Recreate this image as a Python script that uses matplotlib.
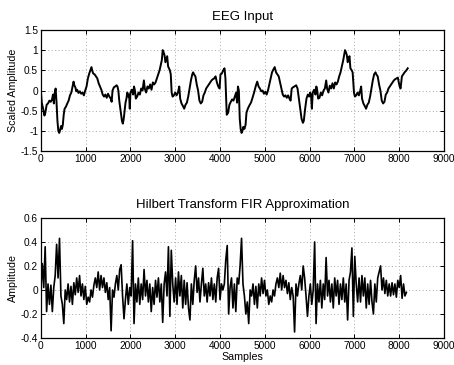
import numpy as np
import matplotlib
matplotlib.use("Agg")
import matplotlib.pyplot as plt

# ---------------- data ----------------
eeg_samples = [0, 20, 50, 80, 100, 130, 160, 190, 220, 250, 270, 290, 310, 330, 350, 370, 390, 410, 430, 450,
               470, 490, 510, 530, 560, 590, 620, 650, 680, 710, 730, 750, 770, 790, 810, 840, 870, 900, 930, 960,
               990, 1020, 1050, 1080, 1110, 1130, 1150, 1170, 1200, 1230, 1260, 1290, 1320, 1350, 1380, 1410, 1440,
               1470, 1500, 1530, 1560, 1580, 1600, 1630, 1660, 1690, 1710, 1730, 1750, 1780, 1810, 1830, 1850, 1870,
               1890, 1910, 1930, 1950, 1970, 1985, 2000, 2030, 2060, 2080, 2100, 2120, 2150, 2180, 2210, 2240, 2270,
               2300, 2320, 2350, 2380, 2410, 2440, 2470, 2500, 2530, 2560, 2590, 2620, 2650, 2680, 2700, 2720, 2740,
               2760, 2780, 2800, 2820, 2840, 2860, 2880, 2900, 2920, 2940, 2970, 3000, 3030, 3060, 3090, 3110, 3140,
               3170, 3200, 3230, 3260, 3290, 3320, 3350, 3380, 3400, 3420, 3450, 3480, 3510, 3540, 3570, 3600, 3630,
               3660, 3690, 3720, 3750, 3780, 3810, 3840, 3870, 3900, 3930, 3960, 3990, 4010, 4040, 4070, 4100, 4120,
               4150, 4180, 4210, 4240, 4270, 4300, 4330, 4360, 4380, 4400, 4420, 4440, 4460, 4480, 4500, 4520, 4545,
               4570, 4590, 4620, 4650, 4690, 4720, 4760, 4800, 4830, 4860, 4890, 4920, 4950, 4980, 5010, 5040, 5070,
               5100, 5130, 5160, 5190, 5220, 5250, 5280, 5310, 5340, 5370, 5400, 5430, 5460, 5490, 5520, 5550, 5575,
               5600, 5630, 5660, 5700, 5730, 5760, 5790, 5820, 5850, 5870, 5900, 5930, 5960, 5990, 6010, 6030, 6050,
               6070, 6100, 6130, 6150, 6170, 6190, 6220, 6250, 6280, 6310, 6340, 6370, 6390, 6420, 6450, 6480, 6510,
               6540, 6570, 6600, 6630, 6660, 6690, 6720, 6750, 6790, 6810, 6830, 6850, 6870, 6890, 6910, 6940, 6960,
               6990, 7010, 7040, 7070, 7100, 7130, 7150, 7170, 7200, 7230, 7260, 7290, 7320, 7350, 7380, 7410, 7440,
               7470, 7490, 7520, 7550, 7580, 7610, 7640, 7670, 7700, 7730, 7760, 7790, 7820, 7850, 7880, 7910, 7940,
               7970, 7990, 8010, 8030, 8060, 8090, 8120, 8160, 8190]
eeg_values = [0.0, -0.3, -0.45, -0.62, -0.55, -0.35, -0.32, -0.25, -0.28, -0.22, -0.1, -0.32, -0.05, 0.05, -0.3,
              -0.75, -1.0, -1.05, -0.98, -0.88, -0.95, -0.85, -0.6, -0.45, -0.4, -0.32, -0.25, -0.12, -0.05, 0.12,
              0.22, 0.12, 0.08, -0.02, 0.02, -0.06, -0.02, -0.08, -0.05, -0.12, 0.0, 0.1, 0.3, 0.42, 0.52, 0.58,
              0.48, 0.42, 0.4, 0.35, 0.3, 0.18, 0.1, 0.02, -0.1, -0.15, -0.1, -0.18, -0.08, -0.15, -0.2, -0.28,
              0.0, 0.08, 0.1, 0.13, 0.1, 0.0, -0.25, -0.5, -0.75, -0.82, -0.7, -0.5, -0.3, -0.2, -0.05, -0.15,
              -0.1, -0.45, -0.05, 0.02, -0.1, 0.1, 0.0, -0.2, -0.15, -0.05, -0.1, 0.05, 0.0, 0.25, 0.05, -0.05,
              0.1, 0.05, 0.15, 0.02, 0.2, 0.15, 0.2, 0.3, 0.4, 0.5, 0.65, 0.75, 1.0, 0.95, 0.88, 0.7, 0.78, 0.85,
              0.6, 0.55, 0.5, 0.4, -0.05, -0.15, -0.12, -0.05, -0.12, -0.05, 0.1, -0.2, -0.32, -0.38, -0.45, -0.35,
              -0.3, -0.15, 0.05, 0.25, 0.4, 0.45, 0.4, 0.35, 0.15, 0.0, -0.25, -0.32, -0.28, -0.12, -0.05, 0.05,
              0.1, 0.15, 0.2, 0.25, 0.28, 0.3, 0.35, 0.2, 0.1, 0.05, 0.4, 0.42, 0.5, 0.55, 0.3, -0.6, -0.55,
              -0.35, -0.28, -0.22, -0.25, -0.15, -0.05, -0.3, 0.1, 0.0, -0.7, -0.95, -1.05, -1.0, -0.9, -0.95,
              -0.85, -0.55, -0.45, -0.38, -0.3, -0.2, -0.05, 0.12, 0.22, 0.1, 0.05, -0.02, 0.0, -0.08, -0.03,
              -0.1, 0.0, 0.15, 0.3, 0.45, 0.52, 0.58, 0.45, 0.4, 0.35, 0.2, 0.05, -0.1, -0.15, -0.12, -0.18,
              -0.12, -0.2, -0.25, 0.05, 0.08, 0.1, 0.13, 0.05, -0.2, -0.45, -0.7, -0.8, -0.75, -0.45, -0.2, -0.1,
              -0.15, -0.05, -0.1, -0.45, -0.05, 0.02, -0.1, 0.1, 0.0, -0.2, -0.18, -0.05, -0.12, 0.0, 0.05, 0.25,
              0.05, -0.05, 0.12, 0.05, 0.18, 0.05, 0.2, 0.15, 0.22, 0.35, 0.45, 0.6, 0.75, 1.0, 0.95, 0.88, 0.7,
              0.8, 0.85, 0.55, 0.5, 0.45, -0.05, -0.15, -0.12, -0.05, -0.12, 0.0, 0.1, -0.2, -0.32, -0.38, -0.45,
              -0.35, -0.3, -0.15, 0.05, 0.25, 0.4, 0.45, 0.4, 0.35, 0.15, 0.0, -0.25, -0.32, -0.28, -0.1, -0.05,
              0.05, 0.1, 0.15, 0.2, 0.25, 0.28, 0.3, 0.32, 0.2, 0.1, 0.05, 0.35, 0.4, 0.45, 0.5, 0.55]

hilbert_step = 32
hilbert_values = [
    0.0, 0.22, 0.02, 0.36, -0.18, 0.05, -0.12, 0.04, -0.18, 0.02, 0.12, 0.38, 0.1, 0.43, -0.05, -0.12,
    -0.28, 0.0, -0.08, 0.05, -0.1, 0.03, -0.12, 0.06, -0.04, 0.1, -0.02, 0.12, -0.05, 0.05, -0.08, 0.03,
    -0.12, -0.06, -0.1, 0.0, -0.06, 0.04, 0.1, 0.02, 0.15, 0.0, 0.12, 0.02, 0.1, -0.02, 0.06, -0.08,
    0.02, -0.34, 0.0, -0.06, 0.05, 0.12, 0.0, 0.17, 0.21, -0.05, -0.24, -0.08, 0.05, -0.12, 0.02, -0.05,
    0.41, -0.28, 0.05, -0.1, 0.1, -0.12, 0.05, -0.08, 0.17, -0.05, 0.08, -0.1, 0.05, -0.18, 0.02, -0.12,
    0.08, -0.06, 0.1, -0.1, 0.05, -0.27, 0.05, 0.15, -0.05, 0.36, -0.22, 0.33, 0.05, -0.1, 0.1, -0.12,
    0.15, -0.05, 0.12, -0.15, 0.08, -0.12, 0.06, -0.15, -0.25, 0.05, -0.12, 0.08, 0.2, -0.02, 0.1, -0.1,
    0.05, 0.18, -0.05, 0.05, -0.1, 0.06, -0.05, 0.1, -0.08, 0.05, -0.1, 0.1, 0.18, -0.08, 0.05, 0.0,
    0.05, 0.25, 0.37, -0.2, 0.02, 0.1, -0.15, 0.05, -0.18, 0.1, 0.05, 0.2, 0.43, 0.05, -0.05, -0.2,
    -0.1, -0.28, 0.0, -0.05, 0.05, -0.12, 0.03, -0.15, 0.05, -0.05, 0.1, -0.03, 0.08, -0.05, 0.0, -0.12,
    -0.05, -0.1, 0.0, -0.05, 0.05, 0.1, 0.02, 0.14, 0.0, 0.12, 0.02, 0.08, -0.03, 0.06, -0.08, 0.02,
    -0.05, -0.35, 0.05, -0.05, 0.05, 0.12, 0.0, 0.2, 0.1, -0.05, -0.22, -0.05, 0.05, -0.12, 0.0, 0.4,
    -0.28, 0.05, -0.1, 0.08, -0.15, 0.05, -0.08, 0.27, -0.05, 0.08, -0.1, 0.05, -0.15, 0.1, -0.05, 0.08,
    -0.12, 0.05, -0.08, 0.1, -0.1, 0.05, -0.25, 0.08, 0.15, 0.35, -0.22, 0.28, 0.05, -0.1, 0.1, -0.1,
    0.12, -0.05, 0.1, -0.15, 0.05, -0.12, 0.08, -0.1, -0.2, 0.05, -0.1, 0.1, 0.15, 0.2, 0.0, 0.1,
    -0.03, 0.08, -0.05, 0.05, -0.05, 0.06, -0.04, 0.05, -0.06, 0.08, 0.02, 0.12, -0.07, 0.05, -0.05, -0.02]
hilbert_samples = np.arange(len(hilbert_values)) * hilbert_step

x_ticks = [0, 1000, 2000, 3000, 4000, 5000, 6000, 7000, 8000, 9000]
top_yticks = [-1.5, -1, -0.5, 0, 0.5, 1, 1.5]
top_yticklabels = ["-1.5", "-1", "-0.5", "0", "0.5", "1", "1.5"]
bot_yticks = [-0.4, -0.2, 0, 0.2, 0.4, 0.6]
bot_yticklabels = ["-0.4", "-0.2", "0", "0.2", "0.4", "0.6"]

# ---------------- drawing ----------------
plt.rcParams['font.family'] = ['Liberation Sans', 'DejaVu Sans']
fig = plt.figure(figsize=(4.54, 3.65), dpi=100)
fig.patch.set_facecolor('white')

ax1 = fig.add_axes([0.090, 0.586, 0.888, 0.332])
ax2 = fig.add_axes([0.090, 0.074, 0.888, 0.329])


def style(ax, yt, ytl, ylim):
    ax.set_xlim(0, 9000)
    ax.set_ylim(*ylim)
    ax.set_xticks(x_ticks)
    ax.set_xticklabels([str(t) for t in x_ticks])
    ax.set_yticks(yt)
    ax.set_yticklabels(ytl)
    ax.grid(True, linestyle=(0, (1, 2.5)), color='#a8a8a8', linewidth=0.7)
    ax.tick_params(direction='in', length=3, width=0.7, top=True, right=True,
                   labelsize=7.3, pad=2, colors='black')
    for s in ax.spines.values():
        s.set_linewidth(0.9)
        s.set_color('black')


ax1.plot(eeg_samples, eeg_values, color='black', linewidth=1.4)
style(ax1, top_yticks, top_yticklabels, (-1.5, 1.5))
ax1.set_title('EEG Input', fontsize=9.5, pad=7)
ax1.set_ylabel('Scaled Amplitude', fontsize=7.7, labelpad=2)

ax2.plot(hilbert_samples, hilbert_values, color='black', linewidth=1.2)
style(ax2, bot_yticks, bot_yticklabels, (-0.4, 0.6))
ax2.set_title('Hilbert Transform FIR Approximation', fontsize=9.5, pad=7)
ax2.set_ylabel('Amplitude', fontsize=7.7, labelpad=2)
ax2.set_xlabel('Samples', fontsize=7.7, labelpad=1)

fig.savefig('out.png', dpi=100, facecolor='white')
